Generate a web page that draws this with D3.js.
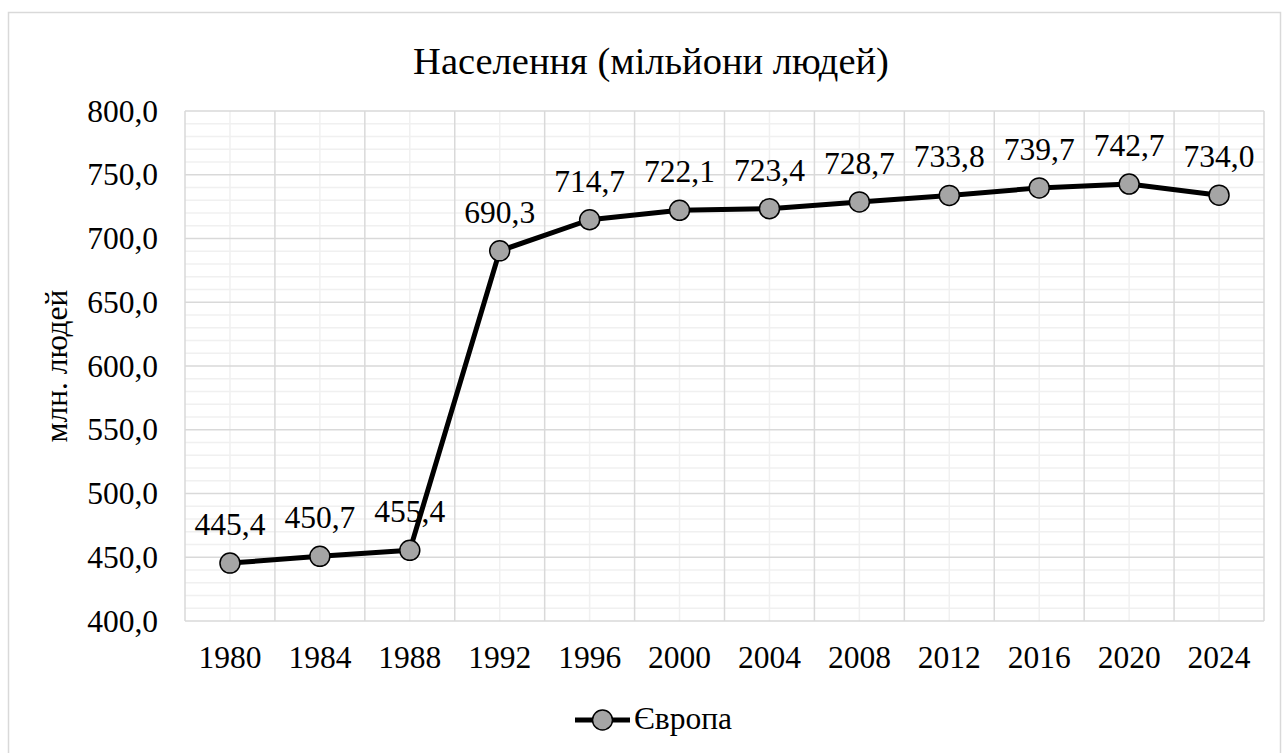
<!DOCTYPE html>
<html>
<head>
<meta charset="utf-8">
<script src="https://cdn.jsdelivr.net/npm/d3@7.9.0/dist/d3.min.js"></script>
<style>
  body { margin: 0; background: #fff; }
  svg text { font-family: "Times New Roman", "Liberation Serif", Tinos, serif; fill: #000; }
</style>
</head>
<body>
<svg id="chart" width="1283" height="753"></svg>
<script>
// data
const years = ['1980', '1984', '1988', '1992', '1996', '2000', '2004', '2008', '2012', '2016', '2020', '2024'];
const population = [445.4, 450.7, 455.4, 690.3, 714.7, 722.1, 723.4, 728.7, 733.8, 739.7, 742.7, 734.0];
const yTicks = [400, 450, 500, 550, 600, 650, 700, 750, 800];
const seriesName = 'Європа';
const chartTitle = 'Населення (мільйони людей)';
const yTitle = 'млн. людей';

const uk = d3.formatLocale({ decimal: ',', thousands: ' ', grouping: [3], currency: ['', ''] });
const fmt = uk.format('.1f');

const svg = d3.select('#chart');

// outer chart border
svg.append('rect')
  .attr('x', 8.5).attr('y', 12.5)
  .attr('width', 1272).attr('height', 800)
  .attr('fill', '#fff')
  .attr('stroke', '#d9d9d9').attr('stroke-width', 1.5);

const plotL = 185, plotR = 1264, plotT = 111, plotB = 621;

const x = d3.scaleBand().domain(years).range([plotL, plotR]).padding(0);
const y = d3.scaleLinear().domain([400, 800]).range([plotB, plotT]);

// minor gridlines (every 10)
const minor = d3.range(400, 801, 10).filter(v => v % 50 !== 0);
svg.append('g').selectAll('line').data(minor).join('line')
  .attr('x1', plotL).attr('x2', plotR)
  .attr('y1', d => y(d)).attr('y2', d => y(d))
  .attr('stroke', '#f0f0f0').attr('stroke-width', 1.5);

svg.append('g').selectAll('line').data(years).join('line')
  .attr('x1', d => x(d) + x.bandwidth() / 2).attr('x2', d => x(d) + x.bandwidth() / 2)
  .attr('y1', plotT).attr('y2', plotB)
  .attr('stroke', '#f0f0f0').attr('stroke-width', 1.5);

// major gridlines
svg.append('g').selectAll('line').data(yTicks).join('line')
  .attr('x1', plotL).attr('x2', plotR)
  .attr('y1', d => y(d)).attr('y2', d => y(d))
  .attr('stroke', '#d9d9d9').attr('stroke-width', 1.5);

svg.append('g').selectAll('line').data(years.concat(['end'])).join('line')
  .attr('x1', (d, i) => plotL + i * x.bandwidth()).attr('x2', (d, i) => plotL + i * x.bandwidth())
  .attr('y1', plotT).attr('y2', plotB)
  .attr('stroke', '#d9d9d9').attr('stroke-width', 1.5);

// axes labels
const yAxis = d3.axisLeft(y).tickValues(yTicks).tickSize(0).tickPadding(27).tickFormat(fmt);
svg.append('g').attr('transform', `translate(${plotL},0)`).call(yAxis)
  .attr('font-family', null).attr('font-size', null)
  .call(g => g.select('.domain').remove())
  .selectAll('text').style('font-size', '31.5px');

const xAxis = d3.axisBottom(x).tickSize(0).tickPadding(25);
svg.append('g').attr('transform', `translate(0,${plotB})`).call(xAxis)
  .attr('font-family', null).attr('font-size', null)
  .call(g => g.select('.domain').remove())
  .selectAll('text').style('font-size', '31.5px');

// line + markers
const cx = (d, i) => x(years[i]) + x.bandwidth() / 2;
const line = d3.line().x(cx).y(d => y(d));

svg.append('path')
  .datum(population)
  .attr('d', line)
  .attr('fill', 'none')
  .attr('stroke', '#000')
  .attr('stroke-width', 5)
  .attr('stroke-linejoin', 'round');

svg.append('g').selectAll('circle').data(population).join('circle')
  .attr('cx', cx).attr('cy', d => y(d)).attr('r', 10)
  .attr('fill', '#a5a5a5').attr('stroke', '#000').attr('stroke-width', 1.5);

// data labels
svg.append('g').selectAll('text').data(population).join('text')
  .attr('x', cx).attr('y', d => y(d) - 28)
  .attr('text-anchor', 'middle')
  .style('font-size', '31.5px')
  .text(d => fmt(d));

// title
svg.append('text')
  .attr('x', 651).attr('y', 74)
  .attr('text-anchor', 'middle')
  .style('font-size', '38.5px')
  .text(chartTitle);

// y title
svg.append('text')
  .attr('transform', `translate(67,366) rotate(-90)`)
  .attr('text-anchor', 'middle')
  .style('font-size', '31.5px')
  .text(yTitle);

// legend
const lg = svg.append('g').attr('transform', 'translate(575,720)');
lg.append('line').attr('x1', 0).attr('x2', 55).attr('y1', 0).attr('y2', 0)
  .attr('stroke', '#000').attr('stroke-width', 5);
lg.append('circle').attr('cx', 27.5).attr('cy', 0).attr('r', 10)
  .attr('fill', '#a5a5a5').attr('stroke', '#000').attr('stroke-width', 1.5);
lg.append('text').attr('x', 59).attr('y', 9)
  .style('font-size', '31.5px')
  .text(seriesName);
</script>
</body>
</html>
